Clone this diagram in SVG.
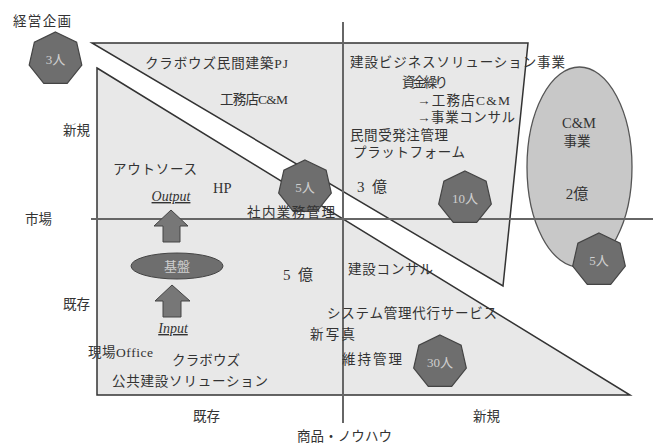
<svg xmlns="http://www.w3.org/2000/svg" xmlns:xlink="http://www.w3.org/1999/xlink" width="653" height="444" viewBox="0 0 653 444">
<style>
text{font-family:"Liberation Serif","Noto Sans CJK JP",serif;font-size:13.5px;fill:#333}
.area{fill:#e8e8e8;stroke:#333;stroke-width:1.5}
.axis{stroke:#666;stroke-width:2;fill:none}
.hep{fill:#6e6e6e;stroke:#444;stroke-width:1.2}
.ht{fill:#cfcfcf;font-size:13px;text-anchor:middle}
.arrow{fill:#777;stroke:#444;stroke-width:1}
.c{text-anchor:middle}
</style>
<defs>
<polygon id="hept" points="0,-27 21.11,-16.83 26.32,6.01 11.71,24.33 -11.71,24.33 -26.32,6.01 -21.11,-16.83"/>
</defs>
<rect width="653" height="444" fill="#fff"/>
<g id="areas">
<polygon id="upper" class="area" points="92,43 528,43 503,286"/>
<polygon id="lower" class="area" points="97,68 630,395 97,395"/>
<ellipse id="cm" cx="579.5" cy="167" rx="52.5" ry="100" fill="#c8c8c8" stroke="#555" stroke-width="1.3"/>
</g>
<g id="connectors">
<line class="axis" x1="91" y1="219" x2="653" y2="219"/>
<line class="axis" x1="343" y1="22" x2="343" y2="423"/>
<polygon class="arrow" points="171,210 188,226 180,226 180,242 163,242 163,226 154,226"/>
<polygon class="arrow" points="172,285 190,301 181,301 181,317 163,317 163,301 155,301"/>
</g>
<g id="kiban">
<ellipse cx="177" cy="266" rx="46" ry="13" fill="#6e6e6e" stroke="#444" stroke-width="1"/>
<text x="177" y="271" class="ht">基盤</text>
</g>
<g id="labels">
<text x="13" y="26" textLength="58">経営企画</text>
<text x="63" y="135">新規</text>
<text x="25" y="224">市場</text>
<text x="63" y="309">既存</text>
<text x="193" y="421">既存</text>
<text x="473" y="421">新規</text>
<text x="297" y="441" textLength="95">商品・ノウハウ</text>
<text x="145" y="68" textLength="143">クラボウズ民間建築PJ</text>
<text x="220" y="104" textLength="68">工務店C&amp;M</text>
<text x="350" y="67" textLength="215">建設ビジネスソリューション事業</text>
<text x="402" y="87" textLength="46">資金繰り</text>
<text x="417" y="105" textLength="93">→工務店C&amp;M</text>
<text x="417" y="122" textLength="98">→事業コンサル</text>
<text x="350" y="140" textLength="98">民間受発注管理</text>
<text x="353" y="157" textLength="112">プラットフォーム</text>
<text x="357" y="192" style="font-size:15px" textLength="30">3億</text>
<text x="579" y="128" class="c" style="font-size:14.5px">C&amp;M</text>
<text x="577" y="146" class="c">事業</text>
<text x="577" y="199" class="c" style="font-size:15px">2億</text>
<text x="113" y="174" textLength="84">アウトソース</text>
<text x="213" y="193" style="font-size:14.5px">HP</text>
<text x="171" y="201" class="c" style="font-style:italic;text-decoration:underline;font-size:14px">Output</text>
<text x="283" y="280" style="font-size:15px" textLength="30">5億</text>
<text x="348" y="274" textLength="85">建設コンサル</text>
<text x="327" y="318" textLength="170">システム管理代行サービス</text>
<text x="310" y="339" textLength="45">新写真</text>
<text x="342" y="364" textLength="60">維持管理</text>
<text x="173" y="333" class="c" style="font-style:italic;text-decoration:underline;font-size:14px">Input</text>
<text x="88" y="357" textLength="65">現場Office</text>
<text x="172" y="365" textLength="68">クラボウズ</text>
<text x="112" y="386" textLength="156">公共建設ソリューション</text>
</g>
<g id="h3"><use xlink:href="#hept" class="hep" x="55.5" y="59"/><text x="55.5" y="64" class="ht">3人</text></g>
<g id="h5a"><use xlink:href="#hept" class="hep" x="305" y="187"/><text x="305" y="192" class="ht">5人</text></g>
<g id="h10"><use xlink:href="#hept" class="hep" x="465" y="198"/><text x="465" y="203" class="ht">10人</text></g>
<g id="h5b"><use xlink:href="#hept" class="hep" x="599" y="260"/><text x="599" y="265" class="ht">5人</text></g>
<g id="h30"><use xlink:href="#hept" class="hep" x="440" y="362"/><text x="440" y="367" class="ht">30人</text></g>
<text id="shanai" x="247" y="217" textLength="88">社内業務管理</text>
</svg>
